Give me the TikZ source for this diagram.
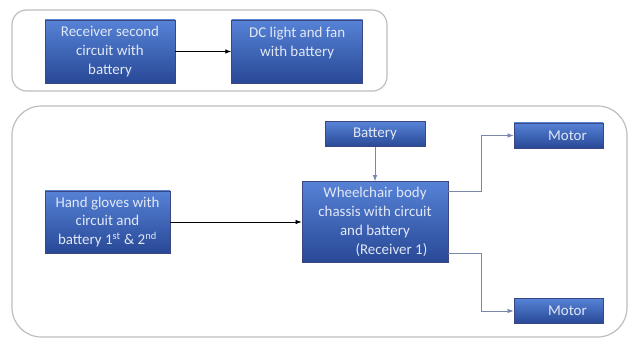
\documentclass[tikz,border=0pt]{standalone}
\usepackage{fontspec}
\setmainfont{Carlito}
\usepackage{tikz}
\usetikzlibrary{calc,positioning,arrows.meta}
\definecolor{boxtop}{RGB}{86, 130, 214}
\definecolor{boxbottom}{RGB}{40, 72, 150}
\definecolor{boxedge}{RGB}{60, 70, 130}
\definecolor{boxtext}{RGB}{225, 232, 245}
\definecolor{framegray}{RGB}{190, 190, 190}
\definecolor{linkgray}{RGB}{120, 135, 170}

\begin{document}
\begin{tikzpicture}[x=0.75pt, y=-0.75pt, node distance=0.4cm,
    font=\fontsize{11.2}{14.2}\selectfont,
    blockbox/.style={draw=boxedge, line width=0.5pt, top color=boxtop, bottom color=boxbottom,
        text=boxtext, align=center, inner sep=2pt},
    frame/.style={draw=framegray, line width=0.9pt},
    link/.style={draw=linkgray, line width=0.6pt, -{Latex[length=1.6mm,width=1.2mm]}}]
        \useasboundingbox[fill=white] (0,0) rectangle (633,338);
        % containers
        \draw[frame, rounded corners=11pt] (12,10) rectangle (387,91);
        \draw[frame, rounded corners=22pt] (12,106) rectangle (627,337);
        % upper group
        \node[blockbox, minimum width=97.5pt, minimum height=47.25pt] (rsc) at (110,51.5) {Receiver second\\circuit with\\battery};
        \node[blockbox, minimum width=98.25pt, minimum height=47.25pt, right=42pt of rsc] (dcl) {DC light and fan\\with battery\\[0pt]};
        % lower group
        \node[blockbox, minimum width=93.75pt, minimum height=46.5pt] (glv) at (107.5,222) {Hand gloves with\\circuit and\\battery 1\textsuperscript{st} \& 2\textsuperscript{nd}};
        \node[blockbox, minimum width=109.5pt, minimum height=60.75pt] (whc) at (375,222) {Wheelchair body\\chassis with circuit\\and battery\\\hspace{2.2em}(Receiver 1)};
        \node[blockbox, minimum width=75pt, minimum height=18.75pt, above=25.5pt of whc] (bat) {Battery};
        \node[blockbox, minimum width=66.75pt, minimum height=18.75pt] (mt1) at (558.5,135.5) {\hspace{1.2em}Motor};
        \node[blockbox, minimum width=66.75pt, minimum height=18.75pt] (mt2) at (558.5,311) {\hspace{1.2em}Motor};
        \coordinate (up) at ($(whc.east)+(0,-31)$);
        \coordinate (dn) at ($(whc.east)+(0,31)$);
        \draw[-{Latex[length=1.6mm,width=1.2mm]}, line width=0.6pt] (rsc) -- (dcl);
        \draw[-{Latex[length=1.6mm,width=1.2mm]}, line width=0.6pt] (glv) -- (whc);
        \draw[link] (bat) -- (whc);
        \draw[link] (up) -- (481,191) |- (mt1);
        \draw[link] (dn) -- (481,253) |- (mt2);
      \end{tikzpicture}
\end{document}
